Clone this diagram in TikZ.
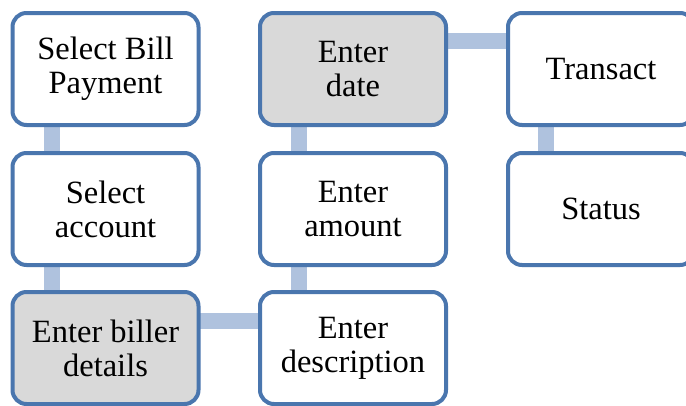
\documentclass[tikz,border=0pt]{standalone}
\usepackage{fontspec}
\setmainfont{Liberation Serif}
\usetikzlibrary{backgrounds}
\definecolor{boxblue}{HTML}{4A76AE}
\definecolor{connblue}{HTML}{AFC2DE}
\definecolor{boxgray}{HTML}{D9D9D9}
\tikzset{
  stepbox/.style={draw=boxblue, line width=4pt, rounded corners=14pt, fill=white,
    minimum width=186pt, minimum height=112pt, inner sep=0pt, align=center,
    font=\fontsize{32.5}{34}\selectfont},
  graybox/.style={stepbox, fill=boxgray},
  conn/.style={connblue, line width=16pt}
}
\begin{document}
\begin{tikzpicture}[x=1pt,y=-1pt]
\clip (0,0) rectangle (686,405);
\node[stepbox] (b1) at (105.5,69) {Select Bill\\Payment};
\node[stepbox] (b2) at (105.5,209) {Select\\account};
\node[graybox] (b3) at (105.5,348) {Enter biller\\details};
\node[graybox] (c1) at (353,69) {Enter\\date};
\node[stepbox] (c2) at (353,209) {Enter\\amount};
\node[stepbox] (c3) at (353,348) {Enter\\description};
\node[stepbox] (d1) at (601,69) {Transact};
\node[stepbox] (d2) at (601,209) {Status};
\begin{scope}[on background layer]
\fill[white] (0,0) rectangle (686,405);
\draw[conn] ([xshift=-54pt]b1.center) -- ([xshift=-54pt]b2.center);
\draw[conn] ([xshift=-54pt]b2.center) -- ([xshift=-54pt]b3.center);
\draw[conn] ([yshift=27pt]b3.center) -- ([yshift=27pt]c3.center);
\draw[conn] ([xshift=-54.5pt]c3.center) -- ([xshift=-54.5pt]c2.center);
\draw[conn] ([xshift=-54.5pt]c2.center) -- ([xshift=-54.5pt]c1.center);
\draw[conn] ([yshift=28pt]c1.center) -- ([yshift=28pt]d1.center);
\draw[conn] ([xshift=-55.5pt]d1.center) -- ([xshift=-55.5pt]d2.center);
\end{scope}
\end{tikzpicture}
\end{document}
